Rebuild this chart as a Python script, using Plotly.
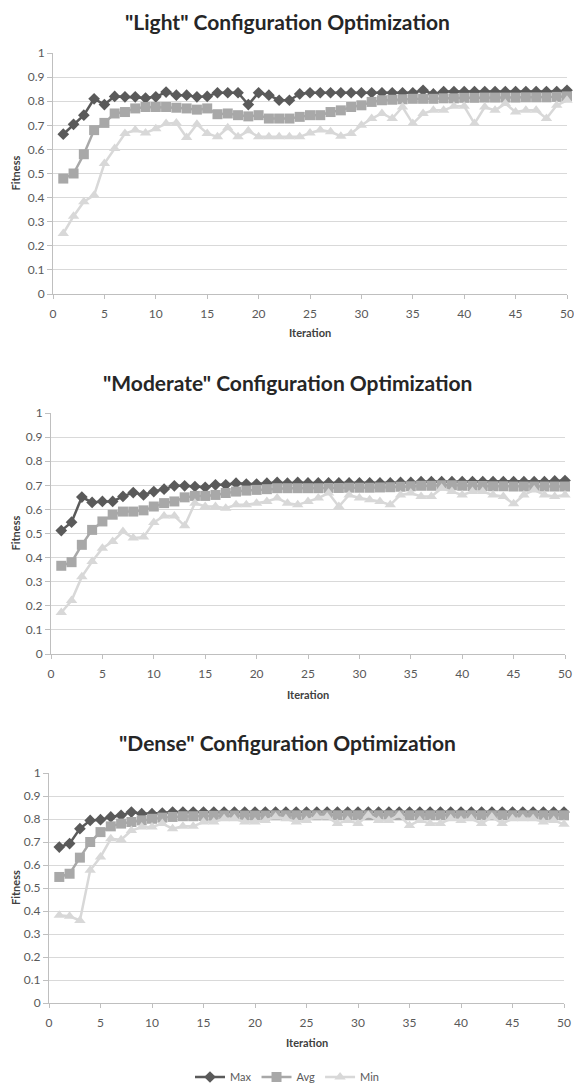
import plotly.graph_objects as go

iterations = list(range(1, 51))

light_max = [0.663, 0.704, 0.742, 0.81, 0.786, 0.82, 0.818, 0.818, 0.813, 0.818,
             0.838, 0.825, 0.825, 0.818, 0.82, 0.835, 0.835, 0.835, 0.786, 0.835,
             0.825, 0.804, 0.804, 0.83, 0.835, 0.835, 0.835, 0.835, 0.835, 0.835,
             0.835, 0.835, 0.835, 0.835, 0.835, 0.845, 0.83, 0.84, 0.84, 0.84,
             0.84, 0.84, 0.84, 0.84, 0.84, 0.84, 0.84, 0.84, 0.84, 0.845]
light_avg = [0.479, 0.5, 0.58, 0.68, 0.71, 0.749, 0.755, 0.77, 0.776, 0.776,
             0.776, 0.773, 0.77, 0.765, 0.77, 0.746, 0.749, 0.742, 0.737, 0.742,
             0.728, 0.728, 0.728, 0.735, 0.742, 0.742, 0.755, 0.762, 0.776, 0.783,
             0.797, 0.804, 0.806, 0.808, 0.81, 0.81, 0.81, 0.812, 0.812, 0.814,
             0.814, 0.815, 0.815, 0.815, 0.815, 0.816, 0.816, 0.816, 0.818, 0.82]
light_min = [0.251, 0.323, 0.383, 0.41, 0.541, 0.604, 0.666, 0.68, 0.668, 0.686,
             0.707, 0.71, 0.649, 0.704, 0.666, 0.652, 0.69, 0.652, 0.677, 0.652,
             0.652, 0.652, 0.652, 0.652, 0.668, 0.68, 0.673, 0.655, 0.666, 0.7,
             0.728, 0.749, 0.728, 0.776, 0.707, 0.749, 0.762, 0.762, 0.779, 0.779,
             0.707, 0.776, 0.762, 0.79, 0.755, 0.762, 0.762, 0.728, 0.783, 0.804]

moderate_max = [0.512, 0.547, 0.651, 0.629, 0.633, 0.633, 0.654, 0.67, 0.66, 0.674,
                0.684, 0.698, 0.698, 0.695, 0.692, 0.702, 0.702, 0.709, 0.705, 0.705,
                0.709, 0.712, 0.709, 0.712, 0.71, 0.71, 0.71, 0.71, 0.71, 0.71,
                0.71, 0.71, 0.71, 0.712, 0.712, 0.715, 0.715, 0.715, 0.715, 0.715,
                0.715, 0.715, 0.715, 0.715, 0.715, 0.715, 0.715, 0.715, 0.718, 0.72]
moderate_avg = [0.366, 0.381, 0.453, 0.515, 0.55, 0.578, 0.591, 0.591, 0.596, 0.612,
                0.626, 0.633, 0.65, 0.656, 0.656, 0.66, 0.668, 0.674, 0.678, 0.681,
                0.684, 0.688, 0.688, 0.688, 0.688, 0.688, 0.689, 0.689, 0.69, 0.69,
                0.69, 0.691, 0.692, 0.694, 0.696, 0.698, 0.698, 0.7, 0.7, 0.698,
                0.697, 0.697, 0.696, 0.696, 0.695, 0.695, 0.695, 0.695, 0.695, 0.695]
moderate_min = [0.172, 0.222, 0.321, 0.384, 0.439, 0.467, 0.508, 0.481, 0.485, 0.546,
                0.573, 0.573, 0.532, 0.626, 0.612, 0.612, 0.605, 0.619, 0.619, 0.626,
                0.633, 0.647, 0.626, 0.619, 0.633, 0.647, 0.668, 0.612, 0.66, 0.647,
                0.64, 0.633, 0.619, 0.66, 0.668, 0.654, 0.654, 0.688, 0.674, 0.66,
                0.674, 0.674, 0.66, 0.654, 0.623, 0.66, 0.681, 0.66, 0.654, 0.66]

dense_max = [0.678, 0.693, 0.758, 0.794, 0.797, 0.809, 0.816, 0.83, 0.823, 0.823,
             0.826, 0.83, 0.83, 0.83, 0.83, 0.83, 0.83, 0.83, 0.83, 0.83,
             0.83, 0.83, 0.83, 0.83, 0.83, 0.83, 0.83, 0.83, 0.83, 0.83,
             0.83, 0.83, 0.83, 0.83, 0.83, 0.83, 0.83, 0.83, 0.83, 0.83,
             0.83, 0.83, 0.83, 0.83, 0.83, 0.83, 0.83, 0.83, 0.83, 0.83]
dense_avg = [0.548, 0.562, 0.632, 0.70, 0.743, 0.768, 0.78, 0.787, 0.794, 0.801,
             0.806, 0.809, 0.812, 0.812, 0.813, 0.814, 0.815, 0.815, 0.815, 0.815,
             0.815, 0.816, 0.816, 0.816, 0.816, 0.816, 0.816, 0.816, 0.816, 0.816,
             0.816, 0.816, 0.816, 0.816, 0.816, 0.816, 0.816, 0.816, 0.816, 0.816,
             0.816, 0.816, 0.816, 0.816, 0.816, 0.816, 0.816, 0.816, 0.816, 0.816]
dense_min = [0.381, 0.377, 0.359, 0.577, 0.635, 0.714, 0.71, 0.75, 0.765, 0.765,
             0.78, 0.758, 0.768, 0.768, 0.787, 0.787, 0.801, 0.801, 0.787, 0.787,
             0.794, 0.809, 0.801, 0.787, 0.794, 0.809, 0.809, 0.78, 0.794, 0.78,
             0.816, 0.794, 0.794, 0.816, 0.772, 0.794, 0.78, 0.78, 0.801, 0.794,
             0.801, 0.78, 0.809, 0.78, 0.801, 0.801, 0.801, 0.787, 0.794, 0.777]

titles = ['"Light" Configuration Optimization',
          '"Moderate" Configuration Optimization',
          '"Dense" Configuration Optimization']
series_names = ["Max", "Avg", "Min"]
x_ticks = [0, 5, 10, 15, 20, 25, 30, 35, 40, 45, 50]
y_ticks = [0, 0.1, 0.2, 0.3, 0.4, 0.5, 0.6, 0.7, 0.8, 0.9, 1]
y_tick_labels = ["0", "0.1", "0.2", "0.3", "0.4", "0.5", "0.6", "0.7", "0.8", "0.9", "1"]

panels = [
    (light_max, light_avg, light_min),
    (moderate_max, moderate_avg, moderate_min),
    (dense_max, dense_avg, dense_min),
]

W, H = 574, 1086
# pixel layout of each plot area: (left, right, top, bottom)
areas = [(53, 567, 53, 294), (51, 565, 413, 654), (49, 564, 773, 1003)]
title_y = [22, 382, 742]
xtitle_y = [333, 694, 1042]

colors = ["#5a5a5a", "#a8a8a8", "#d8d8d8"]
symbols = ["diamond", "square", "triangle-up"]
msizes = [9, 10, 10]

FONT = "Lato"
fig = go.Figure()

for i, (vals, area) in enumerate(zip(panels, areas)):
    sfx = "" if i == 0 else str(i + 1)
    for j, v in enumerate(vals):
        fig.add_trace(go.Scatter(
            x=iterations, y=v, name=series_names[j],
            mode="lines+markers",
            line=dict(color=colors[j], width=2.5),
            marker=dict(symbol=symbols[j], size=msizes[j], color=colors[j]),
            xaxis="x" + sfx, yaxis="y" + sfx,
            showlegend=(i == 0), cliponaxis=False,
        ))
    l, r, t, b = area
    fig.layout["xaxis" + sfx] = dict(
        domain=[l / W, r / W], anchor="y" + sfx, range=[0, 50],
        tickmode="array", tickvals=x_ticks, automargin=False,
        ticks="outside", ticklen=4, tickcolor="#bfbfbf", ticklabelstandoff=5,
        showline=True, linecolor="#bfbfbf", linewidth=1,
        showgrid=False, zeroline=False,
        tickfont=dict(family=FONT, size=12, color="#595959"),
    )
    fig.layout["yaxis" + sfx] = dict(
        domain=[1 - b / H, 1 - t / H], anchor="x" + sfx, range=[0, 1],
        tickmode="array", tickvals=y_ticks, ticktext=y_tick_labels, automargin=False,
        ticks="outside", ticklen=5, tickcolor="#bfbfbf",
        showline=True, linecolor="#bfbfbf", linewidth=1,
        showgrid=True, gridcolor="#d9d9d9", gridwidth=1, zeroline=False,
        tickfont=dict(family=FONT, size=12, color="#595959"),
    )
    fig.add_annotation(
        text=titles[i], xref="paper", yref="paper",
        x=0.5, y=1 - title_y[i] / H, xanchor="center", yanchor="middle",
        showarrow=False,
        font=dict(family=FONT, size=21, color="#262626", weight="bold"),
    )
    fig.add_annotation(
        text="<b>Iteration</b>", xref="paper", yref="paper",
        x=((l + r) / 2) / W, y=1 - xtitle_y[i] / H, xanchor="center", yanchor="middle",
        showarrow=False, font=dict(family=FONT, size=11, color="#404040"),
    )
    fig.add_annotation(
        text="<b>Fitness</b>", xref="paper", yref="paper",
        x=15 / W, y=1 - ((t + b) / 2) / H, xanchor="center", yanchor="middle",
        textangle=-90, showarrow=False,
        font=dict(family=FONT, size=11, color="#404040"),
    )

fig.update_layout(
    width=W, height=H,
    margin=dict(l=0, r=0, t=0, b=0, autoexpand=False),
    paper_bgcolor="white", plot_bgcolor="white",
    showlegend=True,
    legend=dict(orientation="h", x=0.5, xanchor="center",
                y=1 - 1077 / H, yanchor="middle",
                font=dict(family=FONT, size=11, color="#595959"),
                itemwidth=30, tracegroupgap=0),
)

fig.write_html("out.html", config={"displayModeBar": False},
               post_script="document.body.style.margin='0';document.body.style.overflow='hidden';")
